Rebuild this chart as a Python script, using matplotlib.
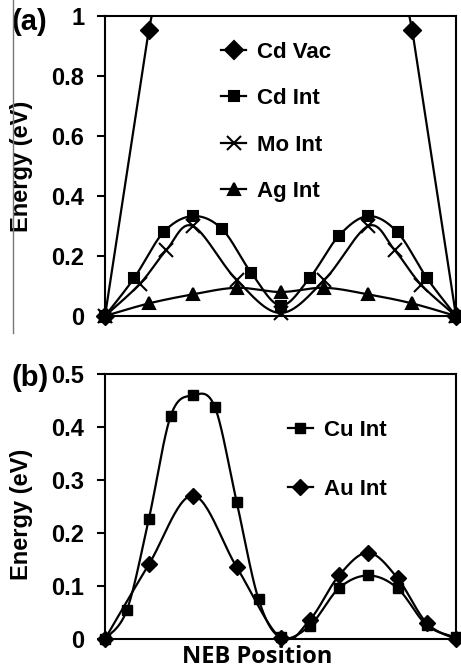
import numpy as np
import matplotlib.pyplot as plt
from matplotlib.lines import Line2D

# data (x = position along NEB path, 0..12)
cdvac_x = [0, 1.5, 3, 4.5, 6, 7.5, 9, 10.5, 12]
cdvac_y = [0, 0.955, 1.66, 1.9, 2.0, 1.9, 1.66, 0.955, 0]

cdint_x = [0, 1, 2, 3, 4, 5, 6, 7, 8, 9, 10, 11, 12]
cdint_y = [0, 0.127, 0.279, 0.333, 0.29, 0.144, 0.035, 0.127, 0.268, 0.333, 0.279, 0.127, 0]

moint_x = [0, 1.2, 2.1, 3.0, 4.5, 6.0, 7.5, 9.0, 9.9, 10.8, 12]
moint_y = [0, 0.108, 0.22, 0.30, 0.12, 0.01, 0.12, 0.30, 0.22, 0.105, 0]

agint_x = [0, 1.5, 3, 4.5, 6, 7.5, 9, 10.5, 12]
agint_y = [0, 0.042, 0.072, 0.094, 0.080, 0.094, 0.072, 0.042, 0]

cuint_x = [0, 0.75, 1.5, 2.25, 3, 3.75, 4.5, 5.25, 6, 7, 8, 9, 10, 11, 12]
cuint_y = [0, 0.055, 0.227, 0.422, 0.460, 0.439, 0.259, 0.075, 0.003,
           0.025, 0.096, 0.120, 0.096, 0.026, 0.003]

auint_x = [0, 1.5, 3, 4.5, 6, 7, 8, 9, 10, 11, 12]
auint_y = [0, 0.141, 0.271, 0.136, 0.002, 0.036, 0.12, 0.163, 0.115, 0.03, 0]

ticks_a = [0, 0.2, 0.4, 0.6, 0.8, 1]
ticklabels_a = ['0', '0.2', '0.4', '0.6', '0.8', '1']
ticks_b = [0, 0.1, 0.2, 0.3, 0.4, 0.5]
ticklabels_b = ['0', '0.1', '0.2', '0.3', '0.4', '0.5']


def smooth(x, y, n=30):
    # excel-like smoothed line (bezier through the points)
    p = np.column_stack([x, y]).astype(float)
    pts = []
    for i in range(len(p) - 1):
        p0 = p[i - 1] if i > 0 else p[i]
        p1, p2 = p[i], p[i + 1]
        p3 = p[i + 2] if i + 2 < len(p) else p[i + 1]
        c1 = p1 + (p2 - p0) / 6
        c2 = p2 - (p3 - p1) / 6
        t = np.linspace(0, 1, n)[:, None]
        seg = ((1 - t) ** 3) * p1 + 3 * ((1 - t) ** 2) * t * c1 + 3 * (1 - t) * t ** 2 * c2 + t ** 3 * p2
        pts.append(seg)
    pts = np.vstack(pts)
    return pts[:, 0], pts[:, 1]


plt.rcParams['font.family'] = ['Liberation Sans', 'DejaVu Sans']
plt.rcParams['font.weight'] = 'bold'

fig = plt.figure(figsize=(4.61, 6.68), dpi=100)
ax1 = fig.add_axes([105 / 461, 1 - 316 / 668, 351 / 461, 300 / 668])
ax2 = fig.add_axes([105 / 461, 1 - 639 / 668, 351 / 461, 264.7 / 668])

lw = 1.6
k = 'black'
fs_tick = 17
fs_leg = 16
fs_lab = 17

# panel (a)
ax1.plot(cdvac_x, cdvac_y, color=k, lw=lw)
ax1.plot(cdvac_x, cdvac_y, 'D', color=k, ms=9, ls='none', clip_on=False)
for xs, ys, m, ms in [(cdint_x, cdint_y, 's', 7.5),
                      (moint_x, moint_y, 'x', 10),
                      (agint_x, agint_y, '^', 8.5)]:
    sx, sy = smooth(xs, ys)
    ax1.plot(sx, sy, color=k, lw=lw)
    ax1.plot(xs, ys, m, color=k, ms=ms, mew=1.5, ls='none', clip_on=False)

ax1.set_xlim(0, 12)
ax1.set_ylim(0, 1)
ax1.set_xticks([])
ax1.set_yticks(ticks_a)
ax1.set_yticklabels(ticklabels_a)
ax1.set_ylabel('Energy (eV)', fontsize=fs_lab, fontweight='bold')
ax1.yaxis.set_label_coords(-0.205, 0.5)

h = [Line2D([], [], color=k, lw=lw, marker=m, ms=ms, mew=1.5)
     for m, ms in [('D', 9), ('s', 7.5), ('x', 10), ('^', 8.5)]]
ax1.legend(h, ['Cd Vac', 'Cd Int', 'Mo Int', 'Ag Int'], loc='upper left',
           bbox_to_anchor=(0.33, 0.915), frameon=False, fontsize=fs_leg,
           handlelength=1.15, handletextpad=0.5, labelspacing=1.15,
           borderaxespad=0, borderpad=0)
ax1.text(-0.265, 0.98, '(a)', transform=ax1.transAxes, fontsize=21, fontweight='bold',
         ha='left', va='center')

# panel (b)
for xs, ys, m, ms in [(cuint_x, cuint_y, 's', 7.5),
                      (auint_x, auint_y, 'D', 8)]:
    sx, sy = smooth(xs, ys)
    ax2.plot(sx, sy, color=k, lw=lw)
    ax2.plot(xs, ys, m, color=k, ms=ms, ls='none', clip_on=False)

ax2.set_xlim(0, 12)
ax2.set_ylim(0, 0.5)
ax2.set_xticks([])
ax2.set_yticks(ticks_b)
ax2.set_yticklabels(ticklabels_b)
ax2.set_ylabel('Energy (eV)', fontsize=fs_lab, fontweight='bold')
ax2.yaxis.set_label_coords(-0.205, 0.47)
ax2.set_xlabel('NEB Position', fontsize=17, fontweight='bold',
               family=['Open Sans', 'DejaVu Sans'])
ax2.xaxis.set_label_coords(0.435, -0.022)
ax2.xaxis.label.set_va('top')

h2 = [Line2D([], [], color=k, lw=lw, marker=m, ms=ms) for m, ms in [('s', 7.5), ('D', 8)]]
ax2.legend(h2, ['Cu Int', 'Au Int'], loc='upper left', bbox_to_anchor=(0.52, 0.828),
           frameon=False, fontsize=fs_leg, handlelength=1.15, handletextpad=0.5,
           labelspacing=1.7, borderaxespad=0, borderpad=0)
ax2.text(-0.265, 0.985, '(b)', transform=ax2.transAxes, fontsize=21, fontweight='bold',
         ha='left', va='center')

for ax in (ax1, ax2):
    for s in ax.spines.values():
        s.set_linewidth(1.5)
    ax.tick_params(axis='y', direction='out', length=6, width=1.5, labelsize=fs_tick, pad=9)

# thin border line on the left of the top panel
fig.add_artist(Line2D([12.5 / 461, 12.5 / 461], [1, 1 - 333 / 668], color='#777777', lw=1))

plt.savefig('out.png', dpi=100)
